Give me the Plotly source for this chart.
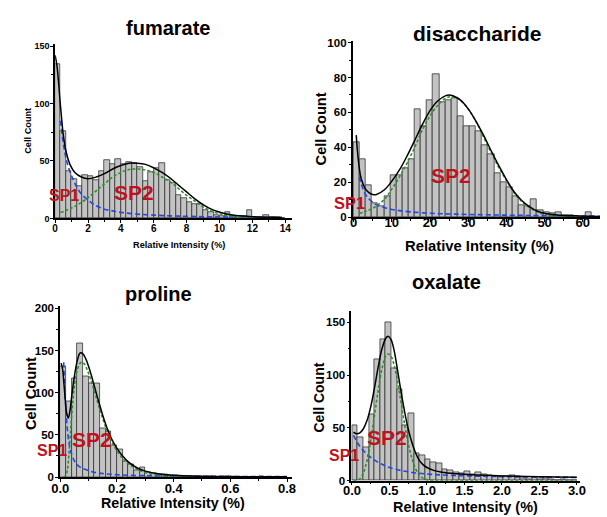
import numpy as np
import plotly.graph_objects as go

W, H = 607, 517

# ---------------- data ----------------
# fumarate histogram (bin width 1/3 %)
fum_counts = [134, 76, 41, 34, 28, 38, 37, 33, 41, 51, 47, 52, 47, 49, 48, 45, 32, 40, 44, 48,
              33, 31, 20, 18, 14, 12, 12, 7, 5, 3, 2, 5, 2, 2, 2, 7, 1, 1, 3, 1, 1, 0]
fum_bin = 1 / 3
fum_tot_x = [0.0, 0.1, 0.2, 0.3, 0.4, 0.5, 0.7, 0.9, 1.2, 1.6, 2.0, 2.5, 3.0, 3.5, 4.0, 4.5, 5.0,
             5.5, 6.0, 6.5, 7.0, 7.5, 8.0, 8.5, 9.0, 9.5, 10.0, 10.5, 11.0, 12.0, 13.0, 13.8]
fum_tot_y = [142, 134, 120, 102, 86, 72, 56, 47, 40, 36, 34.5, 36, 39, 43, 46, 48, 48,
             47, 44, 40, 35, 29, 23, 17, 12, 8, 5.5, 3.5, 2.5, 1.5, 1.0, 0.8]
fum_sp1_x = [0.33, 0.5, 0.7, 1.0, 1.5, 2.0, 2.5, 3.0, 3.5, 4.0, 5.0, 6.0, 7.0, 8.0, 10.0, 12.0, 13.8]
fum_sp1_y = [85, 65, 50, 37, 23, 16, 11, 8, 6.5, 5.2, 3.7, 2.8, 2.2, 1.8, 1.2, 0.9, 0.7]
fum_sp2_x = [0.33, 1.0, 1.5, 2.0, 2.5, 3.0, 3.5, 4.0, 4.5, 5.0, 5.5, 6.0, 6.5, 7.0, 7.5, 8.0,
             8.5, 9.0, 9.5, 10.0, 10.5, 11.0, 12.0, 13.0, 13.8]
fum_sp2_y = [5, 9, 13, 18, 24, 30, 36, 40, 42.5, 43, 42, 40, 36, 32, 26, 20,
             15, 10, 6.5, 4, 2.3, 1.2, 0.3, 0.1, 0]

# disaccharide histogram (bin width 1.6 %)
dis_counts = [43, 33, 18, 8, 6, 12, 24, 24, 28, 33, 62, 52, 67, 82, 66, 67, 68, 58, 52, 52,
              49, 41, 36, 25, 20, 17, 12, 7, 6, 10, 4, 3, 2, 3, 1, 1, 0, 0, 3]
dis_bin = 1.6
dis_tot_x = [0.7, 1.0, 1.5, 2, 3, 4, 5, 6, 8, 10, 12, 14, 16, 18, 20, 22, 24, 25, 26, 28, 30,
             32, 34, 36, 38, 40, 42, 44, 46, 48, 50, 54, 58, 62, 64.5]
dis_tot_y = [47, 38, 28, 22, 16.5, 14, 13, 13, 15.5, 20.5, 27, 35, 44, 53, 61, 66.5, 69.5, 70,
             69.5, 67, 62, 55, 47, 38, 29.5, 21.5, 14.5, 9.5, 6, 3.5, 2.2, 1.1, 0.7, 0.5, 0.4]
dis_sp1_x = [1.5, 2, 3, 4, 5, 6, 8, 10, 12, 15, 20, 25, 30, 40, 50, 64.5]
dis_sp1_y = [23, 19, 13.5, 10.5, 8.5, 7, 5.5, 4.4, 3.7, 3, 2.2, 1.8, 1.5, 1.1, 0.8, 0.5]
dis_sp2_x = [1.5, 3, 5, 8, 10, 12, 14, 16, 18, 20, 22, 24, 25.5, 27, 28, 30, 32, 34, 36, 38,
             40, 42, 44, 46, 48, 50, 54, 58, 64.5]
dis_sp2_y = [2, 3.2, 5, 10, 16, 23, 31, 40, 50, 58, 64, 68, 69, 68.5, 67, 62, 55, 46, 37, 28.5,
             21, 14, 9, 5.5, 3, 1.5, 0.4, 0.1, 0]

# proline histogram (bin width 0.02 %)
pro_counts = [131, 90, 117, 158, 119, 111, 111, 58, 54, 37, 33, 18, 15, 8, 11, 6, 4, 3, 3, 2,
              2, 1, 1, 1, 1, 0, 1, 0, 0, 1, 0, 0, 0, 0, 0, 1, 0, 0, 0, 0]
pro_bin = 0.02
pro_tot_x = [0.003, 0.008, 0.013, 0.018, 0.023, 0.028, 0.034, 0.04, 0.05, 0.06, 0.07, 0.08,
             0.09, 0.1, 0.11, 0.12, 0.135, 0.15, 0.165, 0.18, 0.2, 0.22, 0.24, 0.27, 0.3, 0.35,
             0.4, 0.5, 0.6, 0.7, 0.8]
pro_tot_y = [135, 128, 110, 90, 75, 70, 78, 95, 120, 138, 147, 146, 140, 131, 120, 108, 90, 73,
             58, 46, 34, 25, 18, 11, 7, 3.5, 2, 1, 0.6, 0.4, 0.3]
pro_sp1_x = [0.012, 0.015, 0.018, 0.022, 0.027, 0.032, 0.04, 0.05, 0.065, 0.08, 0.1, 0.13, 0.16,
             0.2, 0.3, 0.4, 0.6, 0.8]
pro_sp1_y = [136, 112, 90, 68, 50, 38, 27, 19, 13, 10, 7.5, 5, 3.8, 2.7, 1.6, 1.1, 0.7, 0.5]
pro_sp2_x = [0.012, 0.02, 0.025, 0.03, 0.035, 0.04, 0.045, 0.05, 0.06, 0.07, 0.078, 0.085, 0.095,
             0.105, 0.12, 0.135, 0.15, 0.165, 0.18, 0.2, 0.22, 0.24, 0.27, 0.3, 0.35, 0.4, 0.5,
             0.6, 0.8]
pro_sp2_y = [0, 2, 8, 25, 48, 72, 92, 108, 127, 135, 136, 134, 127, 118, 102, 85, 69, 55, 43, 31,
             22, 16, 9.5, 5.5, 2.2, 1, 0.3, 0.1, 0]

# oxalate histogram (bin width 0.075 %)
ox_counts = [52, 41, 32, 63, 115, 134, 150, 106, 87, 52, 64, 26, 24, 20, 17, 16, 11, 10, 8, 7,
             9, 6, 8, 6, 5, 4, 4, 4, 5, 4, 2, 1, 3, 1, 2, 1, 0, 1, 0, 0]
ox_bin = 0.075
ox_tot_x = [0.02, 0.06, 0.1, 0.15, 0.2, 0.25, 0.3, 0.35, 0.4, 0.45, 0.48, 0.52, 0.56, 0.6, 0.65,
            0.7, 0.75, 0.8, 0.85, 0.9, 0.95, 1.0, 1.1, 1.2, 1.4, 1.6, 2.0, 2.5, 3.0]
ox_tot_y = [46, 44.5, 45, 49, 57, 70, 88, 108, 125, 135, 137, 134, 124, 108, 86, 66, 49, 36, 26,
            19, 15, 12.5, 9.5, 8, 6.5, 5.5, 4.5, 3.8, 3.3]
ox_sp1_x = [0.02, 0.1, 0.2, 0.3, 0.4, 0.5, 0.6, 0.7, 0.8, 1.0, 1.2, 1.5, 2.0, 2.5, 3.0]
ox_sp1_y = [43, 33, 25, 19.5, 15.5, 12.5, 10.5, 9, 7.8, 6.3, 5.4, 4.6, 3.8, 3.4, 3.0]
ox_sp2_x = [0.02, 0.1, 0.15, 0.2, 0.25, 0.3, 0.35, 0.4, 0.45, 0.48, 0.52, 0.56, 0.6, 0.65, 0.7,
            0.75, 0.8, 0.85, 0.9, 0.95, 1.0, 1.1, 1.5, 3.0]
ox_sp2_y = [0, 1.5, 7, 19, 38, 62, 86, 106, 118, 120, 118, 110, 97, 76, 54, 35, 21, 11, 5, 2.2,
            1, 0.2, 0, 0]

titles = ["fumarate", "disaccharide", "proline", "oxalate"]

# ---------------- styling ----------------
FONT = "Liberation Sans, Arial, sans-serif"
BAR_FILL = "#c3c3c3"
BAR_LINE = "#333333"
BLUE = "#2446e6"
GREEN = "#2f8f2f"
RED = "#c0121c"

panels = [
    dict(counts=fum_counts, bw=fum_bin,
         tot=(fum_tot_x, fum_tot_y), sp1=(fum_sp1_x, fum_sp1_y), sp2=(fum_sp2_x, fum_sp2_y),
         box=(47.3, 290, 40, 218), xr=[0, 14.4], yr=[0, 151.7],
         xd=2, xm=1, yd=50, ym=25, xfmt="d", tick=10, ytick=9, xso=-3,
         title=(163, 24, 20), xlab=(174, 245, 9.2), ylab=(20, 129, 9.2),
         sp1t=(56, 195, 16), sp2t=(128, 192, 21)),
    dict(counts=dis_counts, bw=dis_bin,
         tot=(dis_tot_x, dis_tot_y), sp1=(dis_sp1_x, dis_sp1_y), sp2=(dis_sp2_x, dis_sp2_y),
         box=(352.3, 606, 37, 216.7), xr=[-0.26, 64.5], yr=[0, 100.8],
         xd=10, xm=5, yd=20, ym=10, xfmt="d", tick=13, ytick=11.5, xso=-10,
         title=(480, 29, 21), xlab=(482, 246, 14.8), ylab=(320, 127, 14.6),
         sp1t=(349, 202, 16.5), sp2t=(453, 174, 21)),
    dict(counts=pro_counts, bw=pro_bin,
         tot=(pro_tot_x, pro_tot_y), sp1=(pro_sp1_x, pro_sp1_y), sp2=(pro_sp2_x, pro_sp2_y),
         box=(52.3, 290, 308, 482.3), xr=[-0.001, 0.817], yr=[0, 202.2],
         xd=0.2, xm=0.1, yd=50, ym=25, xfmt=".1f", tick=13, ytick=11.5, xso=-4,
         title=(153, 295, 20), xlab=(168, 509, 14.3), ylab=(22, 397, 14.6),
         sp1t=(44, 455, 16), sp2t=(85, 444, 21)),
    dict(counts=ox_counts, bw=ox_bin,
         tot=(ox_tot_x, ox_tot_y), sp1=(ox_sp1_x, ox_sp1_y), sp2=(ox_sp2_x, ox_sp2_y),
         box=(351, 585, 313, 486), xr=[-0.009, 3.035], yr=[0, 160.5],
         xd=0.5, xm=0.25, yd=50, ym=25, xfmt=".1f", tick=13, ytick=11.5, xso=-6,
         title=(449, 283, 20), xlab=(468, 513, 14.4), ylab=(318, 401, 14),
         sp1t=(344, 460, 16), sp2t=(388, 442, 21)),
]

fig = go.Figure()
annotations = []
layout = dict(width=W, height=H, margin=dict(l=0, r=0, t=0, b=0),
              paper_bgcolor="white", plot_bgcolor="white", showlegend=False,
              font=dict(family=FONT, color="black"), bargap=0)


def px(x):
    return x / W


def py(y):
    return 1 - y / H


for i, p in enumerate(panels):
    k = "" if i == 0 else str(i + 1)
    xa, ya = "x" + k, "y" + k
    counts = np.array(p["counts"], dtype=float)
    centers = (np.arange(len(counts)) + 0.5) * p["bw"]
    fig.add_trace(go.Bar(x=centers, y=counts, width=p["bw"], xaxis=xa, yaxis=ya,
                         marker=dict(color=BAR_FILL, line=dict(color=BAR_LINE, width=0.8))))
    fig.add_trace(go.Scatter(x=p["sp1"][0], y=p["sp1"][1], mode="lines", xaxis=xa, yaxis=ya,
                             line=dict(color=BLUE, width=1.6, dash="5px,3px", shape="spline")))
    fig.add_trace(go.Scatter(x=p["sp2"][0], y=p["sp2"][1], mode="lines", xaxis=xa, yaxis=ya,
                             line=dict(color=GREEN, width=1.6, dash="3px,2px", shape="spline")))
    fig.add_trace(go.Scatter(x=p["tot"][0], y=p["tot"][1], mode="lines", xaxis=xa, yaxis=ya,
                             line=dict(color="black", width=1.5, shape="spline")))

    x0, x1, yt, yb = p["box"]
    common = dict(showline=True, linecolor="black", linewidth=1.5, ticks="outside",
                  tickwidth=1.2, ticklen=3, tickcolor="black", showgrid=False, zeroline=False,
                  mirror=False)
    layout["xaxis" + k] = dict(common, domain=[px(x0), px(x1)], anchor=ya, range=p["xr"],
                               dtick=p["xd"], tick0=0, tickformat=p["xfmt"],
                               tickfont=dict(size=p["tick"], family=FONT, weight="bold"),
                               minor=dict(ticks="outside", dtick=p["xm"], ticklen=2,
                                          tickcolor="black", tickwidth=1),
                               ticklabelstandoff=p["xso"])
    layout["yaxis" + k] = dict(common, domain=[py(yb), py(yt)], anchor=xa, range=p["yr"],
                               dtick=p["yd"], tick0=0,
                               tickfont=dict(size=p["ytick"], family=FONT, weight="bold"),
                               minor=dict(ticks="outside", dtick=p["ym"], ticklen=2,
                                          tickcolor="black", tickwidth=1),
                               ticklabelstandoff=-1)

    tx, ty, ts = p["title"]
    annotations.append(dict(text="<b>%s</b>" % titles[i], x=px(tx), y=py(ty), xref="paper",
                            yref="paper", showarrow=False, font=dict(size=ts, family=FONT),
                            xanchor="center", yanchor="middle"))
    lx, ly, ls = p["xlab"]
    annotations.append(dict(text="<b>Relative Intensity (%)</b>", x=px(lx), y=py(ly),
                            xref="paper", yref="paper", showarrow=False,
                            font=dict(size=ls, family=FONT), xanchor="center", yanchor="middle"))
    cx, cy, cs = p["ylab"]
    annotations.append(dict(text="<b>Cell Count</b>", x=px(cx), y=py(cy), xref="paper",
                            yref="paper", showarrow=False, textangle=-90,
                            font=dict(size=cs, family=FONT), xanchor="center", yanchor="middle"))
    for key, lab in (("sp1t", "SP1"), ("sp2t", "SP2")):
        sx, sy, ss = p[key]
        annotations.append(dict(text="<b>%s</b>" % lab, x=px(sx), y=py(sy), xref="paper",
                                yref="paper", showarrow=False,
                                font=dict(size=ss, family=FONT, color=RED),
                                xanchor="center", yanchor="middle"))

layout["annotations"] = annotations
fig.update_layout(**layout)
fig.write_html("out.html", config={"displayModeBar": False},
               post_script="document.body.style.margin='0px';"
                           "document.body.style.padding='0px';"
                           "document.documentElement.style.overflow='hidden';")
